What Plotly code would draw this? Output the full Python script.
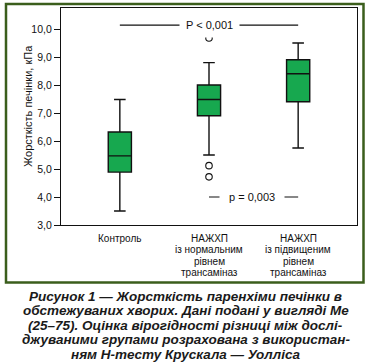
import plotly.graph_objects as go

# ---- data ----
categories = ["Контроль", "НАЖХП із нормальним рівнем трансаміназ", "НАЖХП із підвищеним рівнем трансаміназ"]
label_lines = [["Контроль"],
               ["НАЖХП", "із нормальним", "рівнем", "трансаміназ"],
               ["НАЖХП", "із підвищеним", "рівнем", "трансаміназ"]]
q1 = [4.89, 6.90, 7.40]
median = [5.47, 7.48, 8.40]
q3 = [6.32, 8.00, 8.90]
lower_fence = [3.50, 5.50, 5.75]
upper_fence = [7.48, 8.80, 9.50]
outlier_group = [1, 1, 1]
outlier_vals = [9.68, 5.12, 4.72]
y_ticks = [3, 4, 5, 6, 7, 8, 9, 10]
y_title = "Жорсткість печінки, кПа"
p_overall = "P &lt; 0,001"
p_overall_y = 10.14
p_pair = "p = 0,003"
p_pair_y = 4.0
caption_lines = ["Рисунок 1 — Жорсткість паренхіми печінки в",
                 "обстежуваних хворих. Дані подані у вигляді Ме",
                 "(25–75). Оцінка вірогідності різниці між дослі-",
                 "джуваними групами розрахована з використан-",
                 "ням Н-тесту Крускала — Уолліса"]

W, H = 371, 363
L, R, T, B = 61, 357, 8, 225  # plot area in px
def px_x(px): return (px - L) / (R - L)
def px_y(py): return (B - py) / (B - T)

xpos = list(range(len(categories)))
fig = go.Figure()
fig.add_trace(go.Box(
    x=xpos, q1=q1, median=median, q3=q3,
    lowerfence=lower_fence, upperfence=upper_fence,
    boxpoints=False, width=0.26, whiskerwidth=0.5,
    fillcolor="#17a84f", line=dict(color="#111111", width=1.4),
    showlegend=False, hoverinfo="skip"))
fig.add_trace(go.Scatter(
    x=outlier_group, y=outlier_vals, mode="markers",
    marker=dict(symbol="circle-open", size=6.5, color="#111111", line=dict(width=1.1)),
    showlegend=False, hoverinfo="skip"))

# significance lines
fig.add_shape(type="line", x0=xpos[0], x1=xpos[2], y0=p_overall_y, y1=p_overall_y,
              xref="x", yref="y", line=dict(color="#111111", width=1.2))
fig.add_shape(type="line", x0=xpos[1], x1=xpos[2], y0=p_pair_y, y1=p_pair_y,
              xref="x", yref="y", line=dict(color="#111111", width=1.2))
fig.add_annotation(x=(xpos[0] + xpos[2]) / 2, y=p_overall_y, xref="x", yref="y", text=p_overall,
                   showarrow=False, bgcolor="white", borderpad=6,
                   font=dict(size=11, color="#111111", family="Liberation Sans, Arial"))
fig.add_annotation(x=(xpos[1] + xpos[2]) / 2 - 0.02, y=p_pair_y, xref="x", yref="y", text=p_pair,
                   showarrow=False, bgcolor="white", borderpad=9,
                   font=dict(size=11, color="#111111", family="Liberation Sans, Arial"))

# category labels
for i, lines in enumerate(label_lines):
    for j, t in enumerate(lines):
        fig.add_annotation(x=xpos[i], y=px_y(238.5 + j * 11.3), xref="x", yref="paper",
                           text=t, showarrow=False, yanchor="middle",
                           font=dict(size=10, color="#111111", family="Liberation Sans, Arial"))

# y title
fig.add_annotation(x=px_x(20), y=px_y(106), xref="paper", yref="paper", text=y_title,
                   textangle=-90, showarrow=False,
                   font=dict(size=11, color="#111111", family="Liberation Sans, Arial"))

# caption
cap_y = [296, 310.6, 325.2, 339.8, 354.4]
for t, py in zip(caption_lines, cap_y):
    fig.add_annotation(x=px_x(W / 2), y=px_y(py), xref="paper", yref="paper",
                       text="<b><i>" + t + "</i></b>", showarrow=False, yanchor="middle",
                       font=dict(size=13.5, color="#1a1a1a", family="Liberation Sans, Arial"))

# green frame
fig.add_shape(type="rect", xref="paper", yref="paper",
              x0=px_x(6), x1=px_x(363.5), y0=px_y(282.5), y1=px_y(4),
              line=dict(color="#3b5e1c", width=2.5), fillcolor="rgba(0,0,0,0)", layer="above")

fig.update_xaxes(range=[-0.66, 2.66], showticklabels=False, ticks="", showgrid=False,
                 zeroline=False, showline=True, linecolor="#111111", linewidth=1.2, mirror=True)
fig.update_yaxes(range=[3, 10.75], tickvals=y_ticks, tickformat=".1f", ticks="outside",
                 ticklen=6, tickcolor="#111111", showgrid=False, zeroline=False,
                 showline=True, linecolor="#111111", linewidth=1.2, mirror=True,
                 tickfont=dict(size=10.5, color="#111111", family="Liberation Sans, Arial"))
fig.update_layout(width=W, height=H, margin=dict(l=L, r=W - R, t=T, b=H - B),
                  paper_bgcolor="white", plot_bgcolor="white", separators=", ")
fig.write_html("out.html", config={"displayModeBar": False},
               post_script="document.body.style.margin='0';")
